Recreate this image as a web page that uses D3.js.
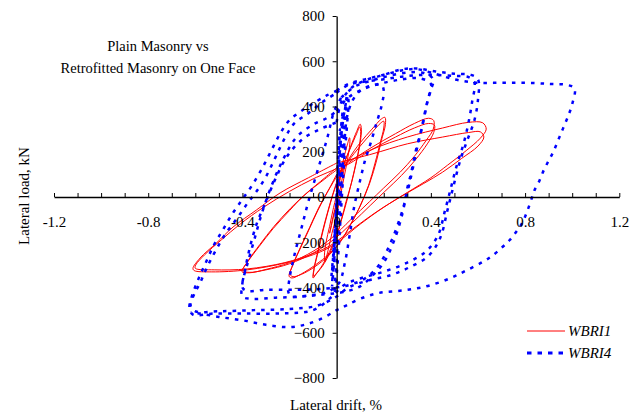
<!DOCTYPE html>
<html>
<head>
<meta charset="utf-8">
<script src="https://cdn.jsdelivr.net/npm/d3@7/dist/d3.min.js"></script>
<style>
  html, body { margin: 0; padding: 0; background: #fff; }
  svg { display: block; }
  text { font-family: "Liberation Serif", "Times New Roman", serif; fill: #000; }
</style>
</head>
<body>
<svg id="chart" width="638" height="416"></svg>
<script>
// Axis tick values and labels
const xTicks = d3.range(-12, 13).map(d => d / 10);
const xLabelValues = [-1.2, -0.8, -0.4, 0, 0.4, 0.8, 1.2];
const yTicks = [-800, -600, -400, -200, 0, 200, 400, 600, 800];

const titleLines = ["Plain Masonry vs", "Retrofitted Masonry on One Face"];
const seriesNames = ["WBRI1", "WBRI4"];

// WBRI1 (plain masonry): load cycles as [drift %, load kN]
const wbri1 = [
  [[0,0],[0.01,60],[0.02,120],[0.03,160],[0.035,150],[0.025,90],[0.01,10],[-0.01,-70],[-0.025,-140],[-0.03,-160],[-0.02,-110],[0,-20]],
  [[0,-20],[0.015,100],[0.03,170],[0.045,230],[0.055,262],[0.056,235],[0.045,160],[0.03,80],[0.015,0],[0,-80],[-0.02,-160],[-0.035,-230],[-0.05,-285],[-0.052,-260],[-0.045,-200],[-0.03,-130],[-0.015,-55],[0,10]],
  [[0,10],[0.03,140],[0.06,225],[0.085,290],[0.10,322],[0.105,300],[0.10,240],[0.085,160],[0.065,70],[0.04,-20],[0.02,-100],[0,-170],[-0.03,-240],[-0.06,-300],[-0.09,-345],[-0.10,-358],[-0.097,-320],[-0.082,-250],[-0.062,-160],[-0.042,-80],[-0.02,0],[0,65]],
  [[0,65],[0.03,145],[0.06,220],[0.085,280],[0.098,310],[0.102,290],[0.097,230],[0.082,150],[0.062,60],[0.04,-30],[0.018,-110],[-0.002,-180],[-0.03,-250],[-0.06,-305],[-0.088,-340],[-0.098,-350],[-0.094,-310],[-0.078,-240],[-0.058,-150],[-0.038,-70],[-0.016,10],[0,60]],
  [[0,60],[0.05,165],[0.1,240],[0.15,300],[0.19,345],[0.205,352],[0.207,320],[0.19,250],[0.17,163],[0.14,60],[0.10,-40],[0.06,-120],[0.02,-190],[-0.03,-250],[-0.09,-300],[-0.15,-340],[-0.19,-358],[-0.202,-350],[-0.19,-310],[-0.16,-240],[-0.12,-150],[-0.08,-60],[-0.04,20],[0,90]],
  [[0,90],[0.05,160],[0.1,225],[0.15,285],[0.185,325],[0.2,335],[0.2,305],[0.185,240],[0.163,150],[0.135,50],[0.095,-50],[0.055,-130],[0.015,-200],[-0.035,-260],[-0.095,-310],[-0.15,-342],[-0.185,-352],[-0.198,-342],[-0.186,-300],[-0.155,-225],[-0.115,-135],[-0.075,-45],[-0.035,30],[0,100]],
  [[0,100],[0.05,150],[0.15,220],[0.25,280],[0.33,325],[0.39,348],[0.412,338],[0.41,300],[0.38,250],[0.33,180],[0.27,110],[0.20,40],[0.14,-20],[0.06,-100],[-0.02,-180],[-0.1,-240],[-0.2,-290],[-0.3,-320],[-0.37,-335],[-0.402,-330],[-0.38,-290],[-0.33,-220],[-0.27,-140],[-0.2,-60],[-0.14,5],[-0.05,80],[0,120]],
  [[0,120],[0.05,145],[0.15,210],[0.25,265],[0.33,305],[0.39,325],[0.415,318],[0.412,285],[0.385,235],[0.335,165],[0.275,95],[0.205,25],[0.145,-35],[0.065,-115],[-0.015,-190],[-0.1,-248],[-0.2,-295],[-0.3,-322],[-0.372,-333],[-0.398,-325],[-0.376,-282],[-0.326,-210],[-0.266,-130],[-0.196,-50],[-0.13,15],[-0.05,85],[0,130]],
  [[0,130],[0.15,210],[0.3,265],[0.45,305],[0.56,330],[0.62,328],[0.635,300],[0.61,260],[0.55,205],[0.47,140],[0.40,85],[0.30,20],[0.20,-45],[0.10,-120],[0,-203],[-0.07,-243],[-0.20,-287],[-0.38,-322],[-0.53,-331],[-0.605,-325],[-0.61,-315],[-0.58,-270],[-0.51,-203],[-0.44,-133],[-0.34,-57],[-0.24,18],[-0.12,85],[0,150]],
  [[0,150],[0.15,190],[0.3,235],[0.45,265],[0.56,285],[0.61,288],[0.625,265],[0.6,225],[0.53,170],[0.45,110],[0.37,60],[0.27,0],[0.17,-65],[0.07,-140],[-0.02,-210],[-0.1,-250],[-0.22,-290],[-0.38,-318],[-0.52,-322],[-0.60,-315],[-0.598,-300],[-0.56,-255],[-0.49,-190],[-0.41,-120],[-0.31,-45],[-0.2,25],[-0.1,80],[0,125]]
];

// WBRI4 (retrofitted on one face): load cycles as [drift %, load kN]
const wbri4 = [
  [[0,0],[0.004,120],[0.01,250],[0.014,300],[0.01,220],[0.003,80],[-0.004,-80],[-0.01,-220],[-0.013,-270],[-0.008,-180],[0,-20]],
  [[0,-20],[0.008,150],[0.018,300],[0.026,380],[0.022,300],[0.012,150],[0,-30],[-0.01,-180],[-0.018,-310],[-0.022,-350],[-0.014,-250],[0,-60]],
  [[0,-60],[0.01,150],[0.025,320],[0.04,420],[0.045,440],[0.04,380],[0.03,250],[0.018,80],[0.005,-100],[-0.008,-250],[-0.018,-360],[-0.02,-400],[-0.012,-300],[0,-120],[0.01,50]],
  [[0.01,50],[0.02,200],[0.03,330],[0.045,450],[0.05,430],[0.045,330],[0.035,200],[0.025,50],[0.015,-120],[0.005,-280],[-0.005,-400],[-0.01,-430],[-0.005,-350],[0.005,-200],[0.015,-30]],
  [[0.015,-30],[0.03,200],[0.05,380],[0.09,460],[0.14,490],[0.19,495],[0.2,470],[0.19,400],[0.17,330],[0.145,240],[0.12,160],[0.10,75],[0.075,-40],[0.055,-170],[0.035,-290],[0.01,-380],[-0.04,-420],[-0.12,-435],[-0.19,-440],[-0.205,-420],[-0.2,-360],[-0.18,-260],[-0.15,-140],[-0.12,-20],[-0.08,120],[-0.04,260],[-0.01,380],[0.02,440]],
  [[0.02,440],[0.08,490],[0.15,515],[0.22,535],[0.3,550],[0.37,548],[0.41,520],[0.395,460],[0.38,400],[0.36,300],[0.335,200],[0.315,100],[0.30,40],[0.28,-70],[0.245,-190],[0.20,-290],[0.15,-350],[0.10,-395],[0.03,-420],[-0.05,-430],[-0.15,-440],[-0.26,-445],[-0.36,-450],[-0.40,-440],[-0.40,-380],[-0.38,-300],[-0.35,-190],[-0.32,-80],[-0.28,40],[-0.23,160],[-0.17,265],[-0.10,320],[-0.04,350],[0,380]],
  [[0,380],[0.05,440],[0.12,480],[0.2,505],[0.28,520],[0.35,525],[0.40,500],[0.385,420],[0.365,320],[0.34,210],[0.32,110],[0.30,20],[0.27,-90],[0.23,-200],[0.18,-300],[0.12,-360],[0.05,-390],[-0.05,-405],[-0.18,-410],[-0.30,-410],[-0.38,-415],[-0.40,-400],[-0.39,-330],[-0.37,-230],[-0.34,-120],[-0.30,-20],[-0.26,80],[-0.21,180],[-0.14,260],[-0.07,300],[0,330]],
  [[0,330],[0.02,420],[0.06,480],[0.12,515],[0.2,540],[0.28,565],[0.34,568],[0.42,555],[0.5,545],[0.57,540],[0.60,520],[0.60,430],[0.585,340],[0.555,252],[0.525,163],[0.495,44],[0.47,-60],[0.44,-180],[0.39,-260],[0.31,-310],[0.23,-345],[0.13,-370],[0.05,-400],[0,-440],[-0.08,-480],[-0.2,-495],[-0.35,-500],[-0.5,-505],[-0.6,-505],[-0.62,-480],[-0.605,-430],[-0.58,-380],[-0.55,-310],[-0.51,-230],[-0.47,-160],[-0.42,-90],[-0.38,-30],[-0.34,25],[-0.3,90],[-0.26,175],[-0.22,260],[-0.18,325],[-0.12,370],[-0.06,420],[0,460]],
  [[0,460],[0.05,495],[0.12,510],[0.2,520],[0.3,535],[0.4,540],[0.5,535],[0.56,530],[0.585,505],[0.575,420],[0.56,330],[0.54,240],[0.51,140],[0.485,40],[0.46,-60],[0.43,-170],[0.38,-240],[0.3,-290],[0.2,-330],[0.1,-360],[0.03,-390],[-0.02,-440],[-0.1,-500],[-0.25,-515],[-0.4,-515],[-0.52,-515],[-0.61,-520],[-0.625,-490],[-0.615,-440],[-0.59,-370],[-0.56,-300],[-0.52,-210],[-0.48,-140],[-0.44,-70],[-0.4,-10],[-0.36,50],[-0.32,120],[-0.28,200],[-0.24,280],[-0.2,340],[-0.15,380],[-0.09,420],[-0.04,450],[0,470]],
  [[0,470],[0.05,500],[0.12,520],[0.2,540],[0.28,560],[0.34,565],[0.4,550],[0.5,520],[0.6,505],[0.7,505],[0.8,505],[0.9,500],[0.98,495],[1.01,480],[1.0,410],[0.98,350],[0.96,300],[0.94,250],[0.92,200],[0.9,160],[0.88,120],[0.86,70],[0.84,30],[0.83,0],[0.81,-60],[0.79,-110],[0.765,-150],[0.735,-190],[0.705,-220],[0.66,-260],[0.62,-287],[0.55,-325],[0.48,-360],[0.38,-395],[0.28,-413],[0.18,-424],[0.10,-450],[0.04,-480],[0,-500],[-0.05,-530],[-0.12,-560],[-0.2,-575],[-0.3,-565],[-0.4,-545],[-0.5,-530],[-0.58,-515],[-0.62,-510]]
];

const svg = d3.select("#chart");

const x = d3.scaleLinear().domain([-1.2, 1.2]).range([54, 619.3]);
const y = d3.scaleLinear().domain([-800, 800]).range([378, 16]);

const line = d3.line()
  .x(d => x(d[0]))
  .y(d => y(d[1]))
  .curve(d3.curveCatmullRom.alpha(0.5));

// Series: WBRI1 first, WBRI4 over it
svg.append("g").selectAll("path")
  .data(wbri1)
  .join("path")
  .attr("d", line)
  .attr("fill", "none")
  .attr("stroke", "#ff0000")
  .attr("stroke-width", 1);

svg.append("g").selectAll("path")
  .data(wbri4)
  .join("path")
  .attr("d", line)
  .attr("fill", "none")
  .attr("stroke", "#0000ff")
  .attr("stroke-width", 2.5)
  .attr("stroke-dasharray", "3.5,6");

// X axis crossing at zero load; minor ticks every 0.1, labels every 0.4
const xAxis = d3.axisBottom(x)
  .tickValues(xTicks)
  .tickSizeInner(-4)
  .tickSizeOuter(0)
  .tickPadding(19)
  .tickFormat(d => {
    const r = Math.round(d * 10);
    return r % 4 === 0 ? String(r / 10) : "";
  });

const gx = svg.append("g")
  .attr("transform", `translate(0,${y(0)})`)
  .call(xAxis);
gx.select(".domain").attr("stroke", "#000").attr("stroke-width", 1.3);
gx.selectAll(".tick line").attr("stroke", "#000");
gx.selectAll(".tick text")
  .attr("font-size", 15)
  .attr("font-family", "Liberation Serif, Times New Roman, serif");

// Y axis crossing at zero drift
const yAxis = d3.axisLeft(y)
  .tickValues(yTicks)
  .tickSizeInner(4)
  .tickSizeOuter(0)
  .tickPadding(8)
  .tickFormat(d3.format(""));

const gy = svg.append("g")
  .attr("transform", `translate(${x(0)},0)`)
  .call(yAxis);
gy.select(".domain").attr("stroke", "#000").attr("stroke-width", 1.3);
gy.selectAll(".tick line").attr("stroke", "#000");
gy.selectAll(".tick text")
  .attr("font-size", 15)
  .attr("font-family", "Liberation Serif, Times New Roman, serif");

// Axis titles
svg.append("text")
  .attr("x", 336)
  .attr("y", 410)
  .attr("text-anchor", "middle")
  .attr("font-size", 15)
  .text("Lateral drift, %");

svg.append("text")
  .attr("transform", "translate(29,196) rotate(-90)")
  .attr("text-anchor", "middle")
  .attr("font-size", 15)
  .text("Lateral load, kN");

// Chart title
svg.append("g").selectAll("text")
  .data(titleLines)
  .join("text")
  .attr("x", 158)
  .attr("y", (d, i) => 51 + i * 22)
  .attr("text-anchor", "middle")
  .attr("font-size", 14.5)
  .text(d => d);

// Legend
const legend = svg.append("g");
const legendRows = [
  { name: seriesNames[0], color: "#ff0000", width: 1, dash: null, y: 331 },
  { name: seriesNames[1], color: "#0000ff", width: 3, dash: "4.5,6", y: 353 }
];
legendRows.forEach(r => {
  legend.append("line")
    .attr("x1", 527).attr("x2", 565)
    .attr("y1", r.y).attr("y2", r.y)
    .attr("stroke", r.color)
    .attr("stroke-width", r.width)
    .attr("stroke-dasharray", r.dash);
  legend.append("text")
    .attr("x", 568)
    .attr("y", r.y + 5)
    .attr("font-size", 15)
    .attr("font-style", "italic")
    .text(r.name);
});
</script>
</body>
</html>
